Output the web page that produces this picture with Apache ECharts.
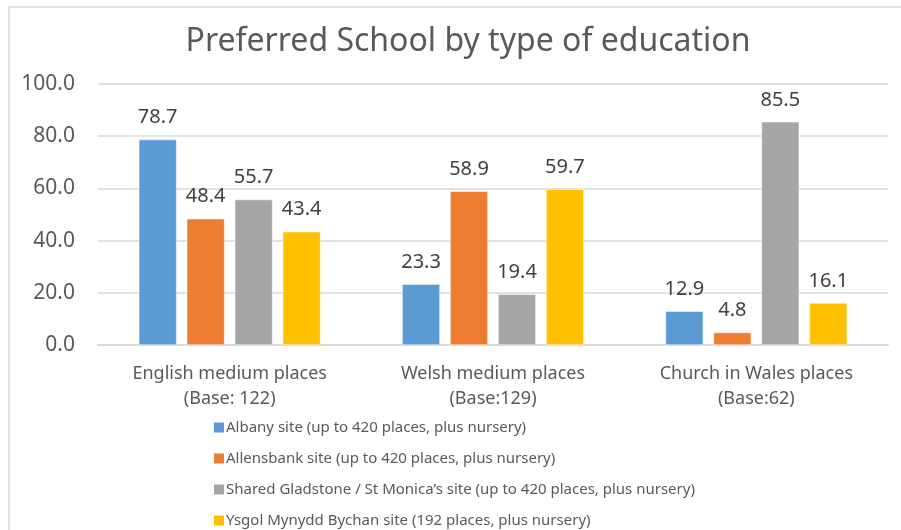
<!DOCTYPE html>
<html>
<head>
<meta charset="utf-8">
<script src="https://cdn.jsdelivr.net/npm/echarts@6/dist/echarts.min.js"></script>
<style>
  html, body { margin: 0; padding: 0; background: #fff; }
  #main { width: 901px; height: 530px; }
</style>
</head>
<body>
<div id="main"></div>
<script>
var categories = ['English medium places\n(Base: 122)', 'Welsh medium places\n(Base:129)', 'Church in Wales places\n(Base:62)']
var seriesNames = [
    'Albany site (up to 420 places, plus nursery)',
    'Allensbank site (up to 420 places, plus nursery)',
    'Shared Gladstone / St Monica\u2019s site (up to 420 places, plus nursery)',
    'Ysgol Mynydd Bychan site (192 places, plus nursery)'
]
var albany = [78.7, 23.3, 12.9]
var allensbank = [48.4, 58.9, 4.8]
var gladstone = [55.7, 19.4, 85.5]
var ysgol = [43.4, 59.7, 16.1]
var colors = ['#5B9BD5', '#ED7D31', '#A5A5A5', '#FFC000']

var font = 'Noto Sans'
var myChart = echarts.init(document.getElementById('main'))

function makeSeries(name, data) {
    return {
        name: name,
        type: 'bar',
        data: data,
        barGap: '27%',
        barCategoryGap: '31%',
        itemStyle: { borderColor: '#fff', borderWidth: 0.5 },
        label: {
            show: true,
            position: 'top',
            distance: 12,
            fontFamily: font,
            fontSize: 20,
            color: '#404040',
            formatter: function (p) { return p.value.toFixed(1) }
        }
    }
}

option = {
    color: colors,
    animation: false,
    graphic: [{
        type: 'rect',
        shape: { x: 9, y: 7, width: 900, height: 540 },
        style: { fill: 'none', stroke: '#D9D9D9', lineWidth: 1.5 },
        silent: true
    }],
    title: {
        text: 'Preferred School by type of education',
        left: 463,
        textAlign: 'center',
        top: 21,
        textStyle: { fontFamily: font, fontSize: 32, fontWeight: 'normal', color: '#595959' }
    },
    legend: {
        orient: 'vertical',
        left: 207,
        top: 415,
        height: 180,
        itemWidth: 12,
        itemHeight: 12,
        itemGap: 16,
        icon: 'rect',
        textStyle: { fontFamily: font, fontSize: 15, color: '#595959', padding: [0, 0, 0, -4] },
        data: seriesNames
    },
    grid: { left: 98, right: 13, top: 84, bottom: 185 },
    xAxis: {
        type: 'category',
        data: categories,
        axisTick: { show: false },
        axisLine: { lineStyle: { color: '#D9D9D9', width: 2 } },
        axisLabel: { fontFamily: font, fontSize: 18, color: '#595959', lineHeight: 25, margin: 16 }
    },
    yAxis: {
        type: 'value',
        min: 0,
        max: 100,
        interval: 20,
        axisLine: { show: false },
        axisTick: { show: false },
        splitLine: { lineStyle: { color: '#D9D9D9', width: 1.5 } },
        axisLabel: {
            fontFamily: font, fontSize: 21, color: '#595959', margin: 23,
            formatter: function (v) { return v.toFixed(1) }
        }
    },
    series: [
        makeSeries(seriesNames[0], albany),
        makeSeries(seriesNames[1], allensbank),
        makeSeries(seriesNames[2], gladstone),
        makeSeries(seriesNames[3], ysgol)
    ]
}
myChart.setOption(option)

window.onresize = function () {
    myChart.resize()
}
</script>
</body>
</html>
